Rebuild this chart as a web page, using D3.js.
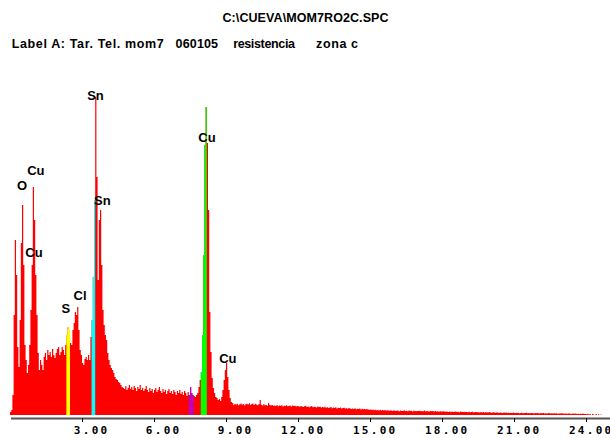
<!DOCTYPE html>
<html>
<head>
<meta charset="utf-8">
<script src="https://cdn.jsdelivr.net/npm/d3@7"></script>
<style>
  html, body { margin: 0; padding: 0; background: #ffffff; }
  svg { display: block; }
  text { white-space: pre; }
</style>
</head>
<body>
<div id="chart"></div>
<script>
// ---- data ----
const fileTitle = "C:\\CUEVA\\MOM7RO2C.SPC";
const labelParts = ["Label A: Tar. Tel. mom7", "060105", "resistencia", "zona c"];

const energyStep = 0.05; // keV per channel
const counts = [
  30,50,200,1000,1750,1400,680,480,950,1720,2100,1500,700,550,420,500,700,1050,1500,2280,
  1950,1400,1000,620,450,550,500,450,580,620,550,650,600,630,580,660,600,570,620,660,
  680,600,630,680,650,600,700,800,880,850,720,700,850,920,1030,1000,1080,850,650,600,
  520,500,560,580,550,600,550,780,950,1380,2150,3180,2380,1350,1950,2050,1500,1050,900,800,
  750,620,550,500,470,450,420,380,360,350,330,320,300,280,270,260,290,250,270,300,
  260,280,250,290,270,240,280,260,300,250,270,240,260,290,250,230,270,240,260,220,
  250,270,230,250,280,240,220,260,230,250,210,240,260,220,240,210,250,230,200,240,
  220,250,210,230,200,240,220,190,230,200,280,220,200,190,180,200,220,280,350,430,
  800,1600,2700,3080,2720,2050,1030,630,370,270,220,180,170,150,160,140,180,250,350,450,
  520,380,250,170,130,120,100,110,105,112,98,108,115,102,110,96,107,113,104,118,
  101,109,115,99,112,106,98,110,150,103,95,108,97,100,92,120,99,94,101,93,
  96,90,99,88,94,92,97,85,93,90,98,87,91,94,86,95,89,92,84,90,
  88,82,91,85,79,87,93,80,84,78,86,90,77,83,81,76,85,79,82,74,
  80,75,83,72,78,70,76,81,68,74,71,77,66,73,69,75,64,70,72,65,
  68,62,70,64,59,66,61,67,58,63,60,65,56,62,57,60,54,59,55,52,
  56,50,54,48,53,47,51,45,52,46,49,44,50,43,47,45,42,48,41,46,
  44,40,46,42,38,45,41,39,47,40,43,37,44,39,42,36,43,40,38,41,
  39,43,37,41,38,44,36,40,38,35,41,37,39,34,40,36,38,33,37,35,
  34,38,32,36,33,30,35,31,34,29,33,36,30,32,28,34,31,29,33,30,
  31,28,32,27,30,33,26,29,31,27,28,25,30,26,29,24,28,27,25,29,
  26,23,27,24,22,26,25,21,24,23,20,25,22,24,19,23,21,22,20,24,
  21,19,22,20,18,21,23,17,20,19,22,18,20,17,19,21,16,20,18,19,
  18,16,19,17,20,15,18,16,17,19,14,17,16,18,15,17,13,16,15,17,
  14,16,13,15,12,16,14,11,13,15,12,14,10,13,11,12,9,14,10,11,
  8,12,5,10,0,11,6,0,9,0,7,0,5
];

// regions of interest (element markers)
const roiStart  = [2.35, 3.40, 7.45, 7.95];
const roiEnd    = [2.50, 3.55, 7.65, 8.20];
const roiColors = ["#ffff00", "#00ffff", "#c000c0", "#00ff00"];

// peak labels: element, energy (keV), count level of label baseline
const peakNames    = ["Sn", "Sn", "Cu", "Cu", "Cu", "O", "Cu", "S", "Cl"];
const peakEnergies = [3.56, 3.85, 8.21, 9.08, 1.08, 0.50, 1.00, 2.33, 2.92];
const peakLevels   = [3150, 2100, 2730, 520, 2400, 2250, 1580, 1020, 1150];

const tickValues = [3, 6, 9, 12, 15, 18, 21, 24];

// ---- drawing ----
const W = 610, H = 438;
const svg = d3.select("#chart").append("svg")
  .attr("width", W).attr("height", H);

const x = d3.scaleLinear().domain([0, 25]).range([10, 610]);
const y = d3.scaleLinear().domain([0, 3300]).range([415, 85]);

const channels = counts.map((c, i) => ({ e: i * energyStep, c }));
const withEnd = arr => arr.concat([{ e: arr[arr.length - 1].e + energyStep, c: arr[arr.length - 1].c }]);

const area = d3.area()
  .x(d => x(d.e))
  .y0(y(0))
  .y1(d => y(d.c))
  .curve(d3.curveStepAfter);

svg.append("path")
  .datum(withEnd(channels))
  .attr("d", area)
  .attr("fill", "#ff0000");

roiStart.forEach((s, k) => {
  const i0 = Math.round(s / energyStep);
  const i1 = Math.round(roiEnd[k] / energyStep);
  const sub = channels.slice(i0, i1);
  svg.append("path")
    .datum(withEnd(sub))
    .attr("d", area)
    .attr("fill", roiColors[k]);
});

// axis
svg.append("line")
  .attr("x1", x(0) + 1).attr("x2", W)
  .attr("y1", 418.5).attr("y2", 418.5)
  .attr("stroke", "#555").attr("stroke-width", 2);

const axis = d3.axisBottom(x)
  .tickValues(tickValues)
  .tickSize(4)
  .tickFormat(d3.format(".2f"));

const gAxis = svg.append("g")
  .attr("transform", "translate(0,418)")
  .call(axis);
gAxis.select(".domain").remove();
gAxis.selectAll(".tick line").attr("stroke", "#000");
gAxis.selectAll(".tick text")
  .attr("y", 16)
  .attr("dy", 0)
  .attr("x", 27)
  .attr("text-anchor", "end")
  .attr("font-family", "DejaVu Sans Mono, monospace")
  .attr("font-weight", "bold")
  .attr("font-size", 11)
  .attr("letter-spacing", 2.3)
  .attr("fill", "#000");

// titles
svg.append("text")
  .attr("x", 305.5).attr("y", 21.5)
  .attr("text-anchor", "middle")
  .attr("font-family", "Liberation Sans, Arial, sans-serif")
  .attr("font-weight", "bold")
  .attr("font-size", 12.5)
  .attr("textLength", 166)
  .attr("lengthAdjust", "spacing")
  .attr("fill", "#000")
  .text(fileTitle);

const partX   = [11.7, 172, 230, 312];
const partLen = [152, 46, 65, 46];
const label = svg.append("text")
  .attr("y", 47.5)
  .attr("font-family", "Liberation Sans, Arial, sans-serif")
  .attr("font-weight", "bold")
  .attr("font-size", 12.5)
  .attr("fill", "#000");
label.selectAll("tspan")
  .data(labelParts)
  .join("tspan")
  .attr("x", (d, i) => partX[i])
  .attr("textLength", (d, i) => partLen[i])
  .attr("lengthAdjust", "spacing")
  .text((d, i) => (i ? " " : "") + d);

// peak labels
svg.append("g").selectAll("text")
  .data(peakNames)
  .join("text")
  .attr("x", (d, i) => x(peakEnergies[i]))
  .attr("y", (d, i) => y(peakLevels[i]))
  .attr("text-anchor", "middle")
  .attr("font-family", "Liberation Sans, Arial, sans-serif")
  .attr("font-weight", "bold")
  .attr("font-size", 13)
  .attr("fill", "#000")
  .text(d => d);
</script>
</body>
</html>
